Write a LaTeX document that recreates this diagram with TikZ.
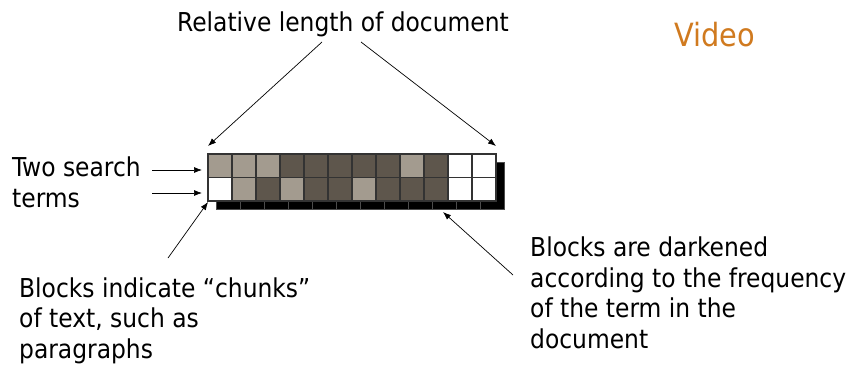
\documentclass[tikz,border=0pt]{standalone}
\usepackage{fontspec}
\setmainfont{DejaVu Sans Condensed}
\usetikzlibrary{arrows.meta}
\definecolor{lightc}{HTML}{A39B8F}
\definecolor{darkc}{HTML}{5E564C}
\definecolor{videoc}{HTML}{D07A1F}
\tikzset{
  lbl/.style={font=\fontsize{26}{30.5}\selectfont, inner sep=0pt, align=left, text=black},
  arr/.style={-{Latex[length=8pt,width=6pt]}, line width=0.7pt},
  cell/.style={draw=black!80, line width=1.2pt},
  shcell/.style={fill=black, draw=black!70, line width=0.4pt}
}
\begin{document}
\begin{tikzpicture}[x=1pt,y=-1pt]
\useasboundingbox (0,0) rectangle (850,369);
% shadow
\foreach \i in {0,...,11} {
  \path[shcell] (216+24*\i,162) rectangle (240+24*\i,209);
}
% cells row 1: L L L D D D D D L D W W
\foreach \c [count=\i from 0] in {lightc,lightc,lightc,darkc,darkc,darkc,darkc,darkc,lightc,darkc,white,white} {
  \path[cell, fill=\c] (208+24*\i,154) rectangle (232+24*\i,177.5);
}
% row 2: W L D L D D L D D D W W
\foreach \c [count=\i from 0] in {white,lightc,darkc,lightc,darkc,darkc,lightc,darkc,darkc,darkc,white,white} {
  \path[cell, fill=\c] (208+24*\i,177.5) rectangle (232+24*\i,201);
}
\coordinate (gtl) at (208,146);
\coordinate (gtr) at (496,146);
\coordinate (gbl) at (208,202);
\coordinate (gbm) at (443,212);
\coordinate (r1) at (202,170);
\coordinate (r2) at (202,193);

\node[lbl, anchor=base] (rel) at (343,32) {Relative length of document};
\node[font=\fontsize{32}{38}\selectfont, text=videoc, anchor=base west, inner sep=0pt] (video) at (674,47) {Video};
\node[lbl, anchor=base west] (two) at (12,176) {Two search};
\node[lbl, anchor=base west] (terms) at (12,207) {terms};
\node[lbl, anchor=base west] (chunks) at (19,358) {Blocks indicate “chunks”\\of text, such as\\paragraphs};
\node[lbl, anchor=base west] (dark) at (530,348) {Blocks are darkened\\according to the frequency\\of the term in the\\document};

\coordinate (relL) at (322,42);
\coordinate (relR) at (361,42);
\draw[arr] (relL) -- (gtl);
\draw[arr] (relR) -- (gtr);
\draw[arr] (152,170) -- (r1);
\draw[arr] (152,193) -- (r2);
\draw[arr] (168,258) -- (gbl);
\draw[arr] (513,275) -- (gbm);
\end{tikzpicture}
\end{document}
